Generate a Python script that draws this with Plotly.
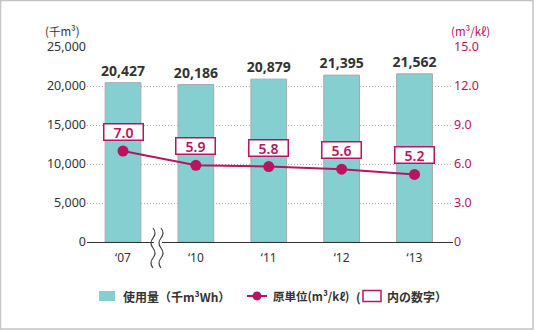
import plotly.graph_objects as go

# ---- data ----
years = ["‘07", "‘10", "‘11", "‘12", "‘13"]
usage = [20427, 20186, 20879, 21395, 21562]          # 千m³
intensity = [7.0, 5.9, 5.8, 5.6, 5.2]                 # m³/kℓ
left_ticks = [0, 5000, 10000, 15000, 20000, 25000]
right_ticks = [0, 3, 6, 9, 12, 15]
right_ticktext = ["0", "3.0", "6.0", "9.0", "12.0", "15.0"]

TEAL = "#86cfd1"
MAG = "#b8145f"
TXT = "#333333"
FONT = "Noto Sans, Noto Sans CJK JP, sans-serif"
JFONT = "Noto Sans CJK JP, Noto Sans, sans-serif"

W, H = 534, 330
L, R, T, B = 87, 453, 47, 242   # plot area in px
xpos = list(range(len(years)))

def px(x):
    return (x - L) / (R - L)

def py(y):
    return (B - y) / (B - T)

fig = go.Figure()
fig.add_trace(go.Bar(
    x=xpos, y=usage, width=0.49,
    marker=dict(color=TEAL, line=dict(color="#a8a8a8", width=1)),
    text=[f"{v:,}" for v in usage], textposition="outside", constraintext="none",
    textfont=dict(family=FONT, size=14, color=TXT, weight="bold"),
    cliponaxis=False, showlegend=False, yaxis="y",
))
fig.add_trace(go.Scatter(
    x=xpos, y=intensity, mode="lines+markers",
    line=dict(color=MAG, width=2),
    marker=dict(color=MAG, size=11),
    showlegend=False, yaxis="y2", cliponaxis=False,
))

annotations = []
for xi, v in zip(xpos, intensity):
    annotations.append(dict(
        x=xi, y=v, xref="x", yref="y2", yshift=19,
        text=f"{v:.1f}", showarrow=False,
        font=dict(family=FONT, size=14, color=MAG, weight=600),
        bordercolor=MAG, borderwidth=1.5, borderpad=1, bgcolor="white",
        width=36, height=13,
    ))

# axis titles
annotations.append(dict(x=px(82), y=py(31), xref="paper", yref="paper", text="(千m³)",
                        showarrow=False, xanchor="right", yanchor="middle",
                        font=dict(family=JFONT, size=11.5, color=TXT)))
annotations.append(dict(x=px(470), y=py(31), xref="paper", yref="paper", text="(m³/kℓ)",
                        showarrow=False, xanchor="center", yanchor="middle",
                        font=dict(family=JFONT, size=11.5, color=MAG)))

# legend texts
annotations.append(dict(x=px(121), y=py(296), xref="paper", yref="paper", text="使用量（千m³Wh）",
                        showarrow=False, xanchor="left", yanchor="middle",
                        font=dict(family=JFONT, size=12, color=TXT, weight="bold")))
annotations.append(dict(x=px(271), y=py(296), xref="paper", yref="paper", text="原単位(m³/kℓ)",
                        showarrow=False, xanchor="left", yanchor="middle",
                        font=dict(family=JFONT, size=11.5, color=TXT, weight="bold")))
annotations.append(dict(x=px(358), y=py(296), xref="paper", yref="paper", text="(",
                        showarrow=False, xanchor="center", yanchor="middle",
                        font=dict(family=JFONT, size=12, color=TXT, weight="bold")))
annotations.append(dict(x=px(385), y=py(296), xref="paper", yref="paper", text="内の数字）",
                        showarrow=False, xanchor="left", yanchor="middle",
                        font=dict(family=JFONT, size=12, color=TXT, weight="bold")))

shapes = [
    # outer border
    dict(type="rect", xref="paper", yref="paper", x0=px(0.5), x1=px(533), y0=py(0.5), y1=py(329),
         line=dict(color="#c4c4c4", width=1.5), layer="below"),
    # legend swatches
    dict(type="rect", xref="paper", yref="paper", x0=px(99), x1=px(115), y0=py(291), y1=py(301),
         fillcolor=TEAL, line=dict(width=0)),
    dict(type="line", xref="paper", yref="paper", x0=px(247), x1=px(267), y0=py(296), y1=py(296),
         line=dict(color=MAG, width=2)),
    dict(type="circle", xref="paper", yref="paper", x0=px(252.5), x1=px(261.5), y0=py(291.5), y1=py(300.5),
         fillcolor=MAG, line=dict(width=0)),
    dict(type="rect", xref="paper", yref="paper", x0=px(363), x1=px(381), y0=py(290.5), y1=py(301.5),
         line=dict(color=MAG, width=1.5)),
    # axis break
    dict(type="rect", xref="paper", yref="paper", x0=px(154), x1=px(162), y0=py(239), y1=py(245),
         fillcolor="white", line=dict(width=0), layer="above"),
]
# wavy break lines
for x0 in (153, 161):
    y = 228
    path = f"M{px(x0)},{py(y)}"
    for k in range(4):
        y1 = y + 10
        dx = 4 if k % 2 == 0 else -4
        path += f" Q{px(x0 + dx)},{py(y + 5)} {px(x0)},{py(y1)}"
        y = y1
    shapes.append(dict(type="path", xref="paper", yref="paper", path=path,
                       line=dict(color="#444444", width=1.2), layer="above"))

fig.update_layout(
    width=W, height=H,
    margin=dict(l=L, r=W - R, t=T, b=H - B),
    paper_bgcolor="white", plot_bgcolor="white",
    showlegend=False,
    xaxis=dict(range=[-0.494, 4.528], tickvals=xpos, ticktext=years,
               showgrid=False, zeroline=False, showline=True, linecolor=TXT, linewidth=1,
               ticks="", ticklabelstandoff=5,
               tickfont=dict(family=FONT, size=12, color=TXT), fixedrange=True),
    yaxis=dict(range=[0, 25000], tickvals=left_ticks, tickformat=",",
               showgrid=True, gridcolor="#a8a8a8", griddash="1px,2px", gridwidth=1,
               zeroline=False, showline=False, ticks="",
               tickfont=dict(family=FONT, size=12.5, color=TXT)),
    yaxis2=dict(range=[0, 15], tickvals=right_ticks, ticktext=right_ticktext,
                overlaying="y", side="right", showgrid=False, zeroline=False,
                showline=False, ticks="", tickfont=dict(family=FONT, size=12.5, color=MAG)),
    annotations=annotations, shapes=shapes,
)

fig.write_html("out.html")
